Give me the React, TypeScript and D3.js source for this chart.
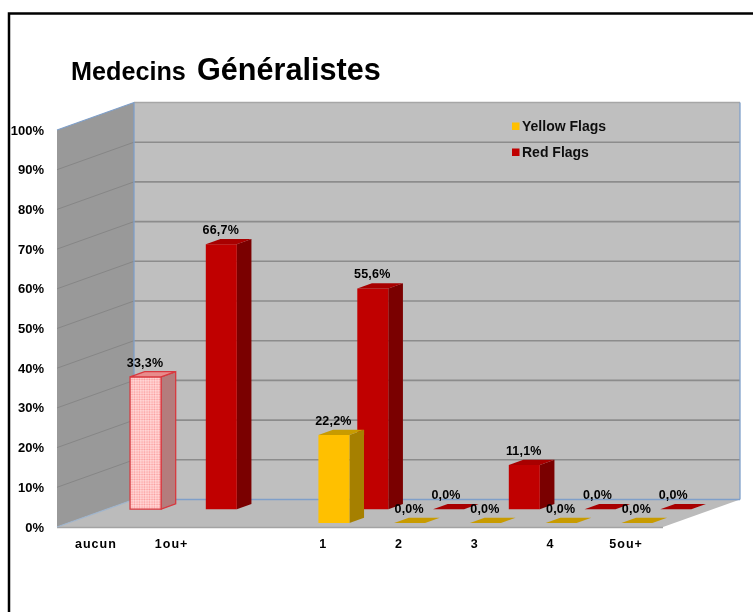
import React from "react";
import * as d3 from "d3";

const categories = ["aucun", "1ou+", " ", "1", "2", "3", "4", "5ou+"];
const yellowValues: (number | null)[] = [null, null, null, 22.2, 0, 0, 0, 0];
const redValues: (number | null)[] = [33.3, 66.7, null, 55.6, 0, 11.1, 0, 0];
const yTicks = [0, 10, 20, 30, 40, 50, 60, 70, 80, 90, 100];
const titleParts = ["Medecins", "Généralistes"];
const legendLabels = ["Yellow Flags", "Red Flags"];

const W = 753, H = 612;
const x0 = 57, x1 = 663, y0 = 527, y100 = 130;
const depthDx = 77, depthDy = -27.5;
const barW = 31, barDepth = 0.19, seriesInset = 23;
const FONT = "'Liberation Sans', Arial, sans-serif";

const xBand = d3.scaleBand<string>().domain(categories).range([x0, x1]);
const yScale = d3.scaleLinear().domain([0, 100]).range([y0, y100]);
const depthX = d3.scaleLinear().domain([0, 1]).range([0, depthDx]);
const depthY = d3.scaleLinear().domain([0, 1]).range([0, depthDy]);

const project = (x: number, v: number, d: number): [number, number] => [x + depthX(d), yScale(v) + depthY(d)];
const poly = d3.line<[number, number]>();
const path = (pts: [number, number][]) => poly(pts) + "Z";
const fmt = (v: number) => v.toFixed(1).replace(".", ",") + "%";

type Look = { front: string; side: string; top: string; stroke?: string };
const yellowLook: Look = { front: "#FFC000", side: "#A68000", top: "#C89B00" };
const redLook: Look = { front: "#C00000", side: "#7A0000", top: "#A80000" };
const pinkLook: Look = { front: "url(#pinkDots)", side: "#B47C7C", top: "#E88C8C", stroke: "#D8393F" };

function Bar({ cat, v, depth, look }: { cat: string; v: number; depth: number; look: Look }) {
  const x = xBand(cat)! + seriesInset;
  const d2 = depth + barDepth;
  const sw = look.stroke ? 1.3 : 0;
  return (
    <g stroke={look.stroke ?? "none"} strokeWidth={sw}>
      {v > 0 && (
        <>
          <path d={path([project(x + barW, 0, depth), project(x + barW, 0, d2), project(x + barW, v, d2), project(x + barW, v, depth)])} fill={look.side} />
          <path d={path([project(x, 0, depth), project(x + barW, 0, depth), project(x + barW, v, depth), project(x, v, depth)])} fill={look.front} />
        </>
      )}
      <path d={path([project(x, v, depth), project(x + barW, v, depth), project(x + barW, v, d2), project(x, v, d2)])} fill={look.top} />
    </g>
  );
}

export default function App() {
  const yellowDepth = 0.145, redDepth = 0.65;
  const frontRight = x1, backLeft = x0 + depthDx, backRight = x1 + depthDx;
  const bars: { cat: string; v: number; depth: number; look: Look }[] = [];
  categories.forEach((cat, i) => {
    const r = redValues[i];
    if (r !== null) bars.push({ cat, v: r, depth: redDepth, look: i === 0 ? pinkLook : redLook });
  });
  categories.forEach((cat, i) => {
    const y = yellowValues[i];
    if (y !== null) bars.push({ cat, v: y, depth: yellowDepth, look: yellowLook });
  });
  return (
    <svg width={W} height={H} viewBox={`0 0 ${W} ${H}`} style={{ position: "absolute", left: 0, top: 0, background: "#fff" }}>
      <defs>
        <pattern id="pinkDots" width="2.5" height="2.5" patternUnits="userSpaceOnUse">
          <rect width="2.5" height="2.5" fill="#FFBDBD" />
          <circle cx="0.8" cy="0.8" r="0.7" fill="#FFE4E4" />
          <circle cx="2" cy="2" r="0.5" fill="#F79A9A" />
        </pattern>
        <filter id="soft" x="-5%" y="-5%" width="110%" height="110%">
          <feGaussianBlur stdDeviation="0.55" />
        </filter>
      </defs>

      <path d={`M9,${H}V13.5H${W}`} fill="none" stroke="#000" strokeWidth={2.5} />

      <g filter="url(#soft)">
        {/* walls and floor */}
        <path d={path([[backLeft, yScale(100) + depthDy], [backRight, yScale(100) + depthDy], [backRight, y0 + depthDy], [backLeft, y0 + depthDy]])} fill="#BFBFBF" />
        <path d={path([[x0, y100], [backLeft, y100 + depthDy], [backLeft, y0 + depthDy], [x0, y0]])} fill="#999999" />
        <path d={path([[x0, y0], [frontRight, y0], [backRight, y0 + depthDy], [backLeft, y0 + depthDy]])} fill="#BBBBBB" />
        <line x1={x0} x2={frontRight} y1={y0 + 0.5} y2={y0 + 0.5} stroke="#A3A3A3" strokeWidth={1.5} />

        {yTicks.slice(1).map((t) => (
          <g key={t} stroke="#8C8C8C" fill="none">
            {t < 100 && <line x1={backLeft} x2={backRight} y1={yScale(t) + depthDy} y2={yScale(t) + depthDy} strokeWidth={1.6} />}
            {t < 100 && <line x1={x0} x2={backLeft} y1={yScale(t)} y2={yScale(t) + depthDy} stroke="#868686" strokeWidth={1} />}
          </g>
        ))}
        <line x1={backLeft} x2={backRight} y1={y100 + depthDy} y2={y100 + depthDy} stroke="#A6A6A6" strokeWidth={1.5} />

        {/* blue edges */}
        <g stroke="#7F9FC9" strokeWidth={1.3} fill="none">
          <line x1={x0} y1={y100} x2={backLeft} y2={y100 + depthDy} />
          <line x1={backLeft} y1={y100 + depthDy} x2={backLeft} y2={y0 + depthDy} />
          <line x1={backRight} y1={y100 + depthDy} x2={backRight} y2={y0 + depthDy} />
          <line x1={backLeft} y1={y0 + depthDy} x2={backRight} y2={y0 + depthDy} />
          <line x1={x0} y1={y0} x2={backLeft} y2={y0 + depthDy} stroke="#9FB4CC" />
        </g>

        {bars.map((b, i) => <Bar key={i} {...b} />)}

        {/* value labels */}
        <g fontFamily={FONT} fontWeight="bold" fontSize={12.5} textAnchor="middle" fill="#000" letterSpacing={0.2}>
          {bars.map((b, i) => {
            const [px, py] = project(xBand(b.cat)! + seriesInset, b.v, b.depth);
            return <text key={i} x={px + (b.v > 0 ? 15 : b.depth < 0.5 ? 15 : 13)} y={py - 10}>{fmt(b.v)}</text>;
          })}
        </g>

        {/* axes text */}
        <g fontFamily={FONT} fontWeight="bold" fontSize={13} fill="#000" textAnchor="end">
          {yTicks.map((t) => <text key={t} x={44} y={yScale(t) + 4.5}>{t}%</text>)}
        </g>
        <g fontFamily={FONT} fontWeight="bold" fontSize={12.5} fill="#000" textAnchor="middle" letterSpacing={1}>
          {categories.map((c) => <text key={c} x={xBand(c)! + xBand.bandwidth() / 2 + 1} y={548}>{c}</text>)}
        </g>

        {/* legend */}
        <g fontFamily={FONT} fontWeight="bold" fontSize={14} fill="#111">
          <rect x={512} y={122.5} width={7.5} height={7.5} fill={yellowLook.front} />
          <text x={522} y={131}>{legendLabels[0]}</text>
          <rect x={512} y={148.5} width={7.5} height={7.5} fill={redLook.front} />
          <text x={522} y={157}>{legendLabels[1]}</text>
        </g>

        {/* title */}
        <text x={71} y={80} fontFamily={FONT} fontWeight="bold" fontSize={25.2} fill="#000">{titleParts[0]}</text>
        <text x={197} y={80} fontFamily={FONT} fontWeight="bold" fontSize={30.6} fill="#000">{titleParts[1]}</text>
      </g>
    </svg>
  );
}
